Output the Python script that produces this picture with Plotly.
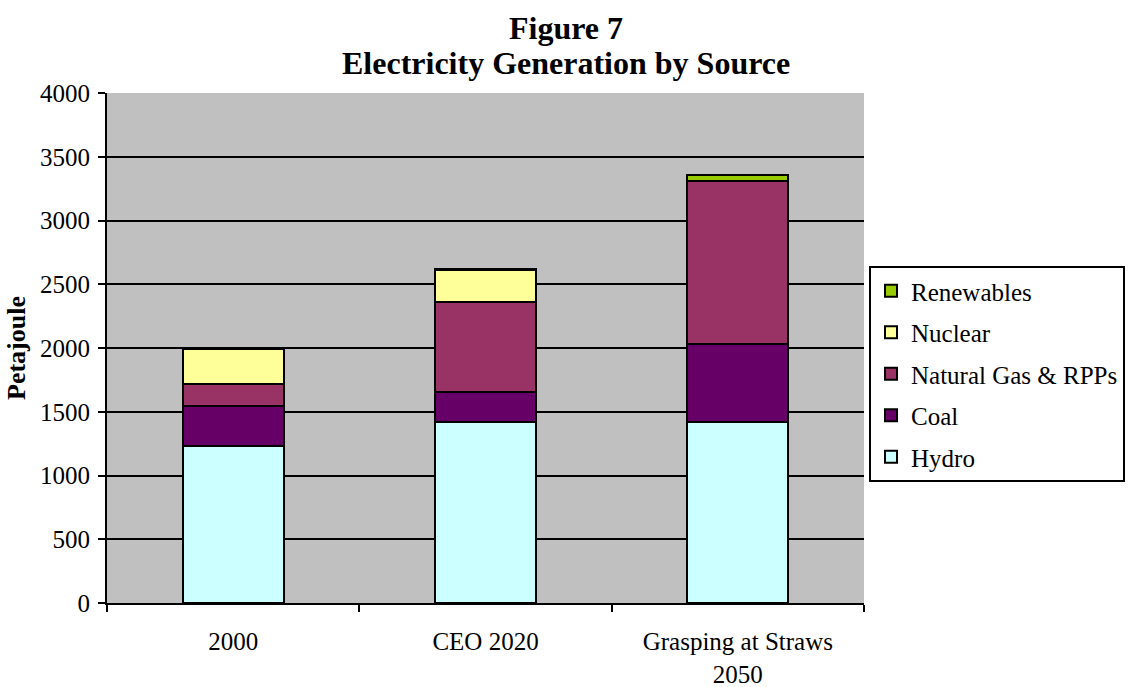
import plotly.graph_objects as go

categories = ["2000", "CEO 2020", "Grasping at Straws<br>2050"]
hydro = [1234, 1422, 1422]
coal = [315, 234, 609]
natural_gas = [172, 703, 1279]
nuclear = [271, 250, 0]
renewables = [5, 11, 49]

series = [
    ("Hydro", hydro, "#CCFFFF"),
    ("Coal", coal, "#660066"),
    ("Natural Gas & RPPs", natural_gas, "#993366"),
    ("Nuclear", nuclear, "#FFFF99"),
    ("Renewables", renewables, "#99CC00"),
]

serif = "Liberation Serif"

fig = go.Figure()
for i, (name, vals, color) in enumerate(series):
    fig.add_trace(go.Bar(
        x=categories, y=vals, name=name, legendgroup=name,
        legendrank=1000 - i,
        marker=dict(color=color, line=dict(color="black", width=2)),
        width=0.4,
    ))

# two-line bold heading, placed as annotations for tight line spacing
for text, ypix in [("Figure 7", 28), ("Electricity Generation by Source", 63)]:
    fig.add_annotation(
        text=f"<b>{text}</b>", xref="paper", yref="paper",
        x=(566 - 107) / 757, y=(603 - ypix) / 510,
        xanchor="center", yanchor="middle", showarrow=False,
        font=dict(family=serif, size=32, color="black"),
    )

fig.update_layout(
    barmode="stack",
    width=1129, height=687,
    margin=dict(l=107, r=265, t=93, b=84, autoexpand=False),
    paper_bgcolor="white",
    plot_bgcolor="#C0C0C0",
    font=dict(family=serif, size=26, color="black"),
    legend=dict(
        traceorder="grouped",
        x=(869 - 107) / 757, xanchor="left", y=(603 - 266) / 510, yanchor="top",
        bgcolor="white", bordercolor="black", borderwidth=2,
        font=dict(family=serif, size=25, color="black"),
        itemwidth=30, tracegroupgap=6,
    ),
    showlegend=True,
)
fig.update_xaxes(
    showline=True, linecolor="black", linewidth=2,
    ticks="outside", tickson="boundaries", ticklen=7, tickcolor="black", tickwidth=2,
    tickfont=dict(family=serif, size=25),
    ticklabelstandoff=15,
    showgrid=False,
)
fig.update_yaxes(
    range=[0, 4000], dtick=500,
    showline=True, linecolor="black", linewidth=2,
    ticks="outside", ticklen=7, tickcolor="black", tickwidth=2,
    gridcolor="black", gridwidth=1.5,
    tickfont=dict(family=serif, size=25),
    ticklabelstandoff=3,
    title=dict(text="<b>Petajoule</b>", font=dict(family=serif, size=26), standoff=7),
    zeroline=False,
)

fig.write_html("out.html")
